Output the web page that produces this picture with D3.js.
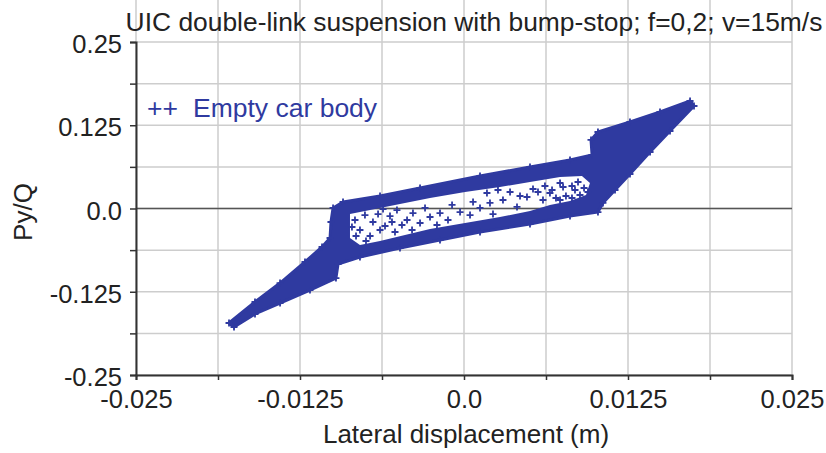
<!DOCTYPE html>
<html>
<head>
<meta charset="utf-8">
<script src="https://cdnjs.cloudflare.com/ajax/libs/d3/7.8.5/d3.min.js"></script>
<style>
  html, body { margin: 0; padding: 0; background: #fff }
  svg { display: block; font-family: 'Liberation Sans', Arial, sans-serif }
</style>
</head>
<body>
<svg id="chart" width="826" height="453"></svg>
<script>
var BLUE = '#2f3aa0'
  , INK = '#222'
  , GRID = '#cdcdcd'
  , PLUS = 'M-3.5,0H3.5M0,-3.5V3.5'

var title = 'UIC double-link suspension with bump-stop; f=0,2; v=15m/s'
  , xLabel = 'Lateral displacement (m)'
  , yLabel = 'Py/Q'
  , legendLabel = 'Empty car body'

var xTicks = [-0.025, -0.0125, 0, 0.0125, 0.025]
  , xTickLabels = ['-0.025', '-0.0125', '0.0', '0.0125', '0.025']
  , xMinorTicks = [-0.01875, -0.00625, 0.00625, 0.01875]
  , yTicks = [0.25, 0.125, 0, -0.125, -0.25]
  , yTickLabels = ['0.25', '0.125', '0.0', '-0.125', '-0.25']
  , yMinorTicks = [0.1875, 0.0625, -0.0625, -0.1875]

// outline of the dense cloud of (displacement, Py/Q) points,
// read clockwise from the lower-left tip
var envelope = [
    [-0.01791, -0.1719], [-0.01593, -0.1404], [-0.01402, -0.1119]
  , [-0.01212, -0.0803], [-0.01082, -0.0578], [-0.01021, -0.0443]
  , [-0.01014, -0.0203], [-0.00998, 0.0008], [-0.00922, 0.0098]
  , [-0.00640, 0.0188], [-0.00335, 0.0308], [0.00122, 0.0488]
  , [0.00503, 0.0623], [0.00808, 0.0728], [0.00976, 0.0803]
  , [0.00968, 0.1029], [0.01021, 0.1149], [0.01265, 0.1299]
  , [0.01494, 0.1449], [0.01723, 0.1614], [0.01753, 0.1539]
  , [0.01570, 0.1164], [0.01418, 0.0848], [0.01265, 0.0518]
  , [0.01151, 0.0278], [0.01059, 0.0083], [0.01021, -0.0053]
  , [0.00808, -0.0113], [0.00503, -0.0233], [0.00122, -0.0353]
  , [-0.00183, -0.0473], [-0.00488, -0.0593], [-0.00793, -0.0729]
  , [-0.00960, -0.0833], [-0.00976, -0.1044], [-0.01174, -0.1224]
  , [-0.01402, -0.1419], [-0.01593, -0.1584], [-0.01753, -0.1779]
]

// sparse inside of the hysteresis loop
var loopHole = [
    [-0.00869, -0.0083], [-0.00716, -0.0023], [-0.00488, 0.0068]
  , [-0.00259, 0.0158], [0.00008, 0.0248], [0.00274, 0.0323]
  , [0.00503, 0.0398], [0.00732, 0.0473], [0.00899, 0.0488]
  , [0.00960, 0.0383], [0.00930, 0.0203], [0.00808, 0.0113]
  , [0.00655, 0.0053], [0.00503, -0.0038], [0.00274, -0.0128]
  , [0.00008, -0.0218], [-0.00259, -0.0308], [-0.00450, -0.0398]
  , [-0.00640, -0.0488], [-0.00793, -0.0548], [-0.00869, -0.0443]
]

// single points scattered inside the loop
var loosePoints = [
    [-0.00122, -0.0173], [0.00069, 0.0098], [0.00175, 0.0233], [-0.00030, -0.0053]
  , [-0.00206, -0.0248], [-0.00259, -0.0128], [-0.00389, -0.0068], [-0.00335, -0.0218]
  , [0.00297, 0.0128], [0.00351, 0.0248], [0.00404, 0.0023], [0.00480, 0.0173]
  , [0.00526, 0.0293], [0.00602, 0.0128], [0.00655, 0.0233], [0.00755, 0.0323]
  , [0.00777, 0.0188], [0.00823, 0.0338], [0.00259, 0.0278], [-0.00511, -0.0023]
  , [-0.00473, -0.0248], [-0.00564, -0.0113], [-0.00617, -0.0008], [-0.00602, -0.0263]
  , [-0.00526, -0.0353], [-0.00434, -0.0173], [-0.00297, 0.0008], [-0.00183, -0.0068]
  , [-0.00091, 0.0053], [0.00046, -0.0098], [0.00122, 0.0008], [0.00198, 0.0083]
  , [0.00221, -0.0083], [0.00427, 0.0188], [0.00564, 0.0248], [0.00617, 0.0338]
  , [0.00701, 0.0158], [0.00732, 0.0383], [-0.00396, -0.0323], [-0.00549, -0.0203]
  , [-0.00831, -0.0173], [-0.00793, -0.0323], [-0.00755, -0.0098], [-0.00716, -0.0413]
  , [-0.00694, -0.0203], [-0.00655, -0.0083], [-0.00640, -0.0323], [-0.00823, -0.0413]
  , [-0.00747, -0.0488], [-0.00854, -0.0278], [0.00869, 0.0398], [0.00915, 0.0308]
  , [0.00884, 0.0203], [0.00846, 0.0278], [0.00945, 0.0248], [0.00823, 0.0158]
  , [0.00732, 0.0128], [0.00671, 0.0278]
]

var svg = d3.select('#chart')

var x = d3.scaleLinear().domain([-0.025, 0.025]).range([136, 792])
  , y = d3.scaleLinear().domain([-0.25, 0.25]).range([375, 42])

var left = x.range()[0]
  , right = x.range()[1]
  , bottom = y.range()[0]
  , top = y.range()[1]

drawGrid()
drawCloud()
drawAxes()
drawText()

function drawGrid() {
  var grid = svg.append('g').attr('class', 'grid')

  grid.selectAll('.grid-x')
    .data(xTicks.concat(xMinorTicks))
    .enter()
      .append('line')
      .attr('x1', x)
      .attr('x2', x)
      .attr('y1', top)
      .attr('y2', bottom)
      .attr('stroke', GRID)
      .attr('stroke-width', 1.5)

  grid.selectAll('.grid-y')
    .data(yTicks.concat(yMinorTicks))
    .enter()
      .append('line')
      .attr('x1', left)
      .attr('x2', right)
      .attr('y1', y)
      .attr('y2', y)
      .attr('stroke', GRID)
      .attr('stroke-width', 1.5)

  grid.append('line')
    .attr('x1', left)
    .attr('x2', right)
    .attr('y1', y(0))
    .attr('y2', y(0))
    .attr('stroke', '#555')
    .attr('stroke-width', 1.5)

  grid.append('path')
    .attr('d', 'M' + left + ',' + top + 'H' + right + 'V' + bottom)
    .attr('fill', 'none')
    .attr('stroke', '#444')
    .attr('stroke-width', 1.5)
}

function drawCloud() {
  var closed = d3.line()
    .x(function(d) { return x(d[0]) })
    .y(function(d) { return y(d[1]) })
    .curve(d3.curveLinearClosed)

  var cloud = svg.append('g').attr('class', 'cloud')

  cloud.append('path')
    .attr('d', closed(envelope) + closed(loopHole))
    .attr('fill', BLUE)
    .attr('fill-rule', 'evenodd')

  cloud.append('path')
    .attr('d', closed(envelope))
    .attr('fill', 'none')
    .attr('stroke', BLUE)
    .attr('stroke-width', 3)
    .attr('stroke-linejoin', 'round')

  cloud.selectAll('.plus')
    .data(loosePoints.concat(envelope))
    .enter()
      .append('path')
      .attr('class', 'plus')
      .attr('d', PLUS)
      .attr('transform', function(d) {
        return 'translate(' + x(d[0]) + ',' + y(d[1]) + ')'
      })
      .attr('stroke', BLUE)
      .attr('stroke-width', 1.8)
}

function drawAxes() {
  var yAxis = d3.axisLeft(y)
    .tickValues(yTicks.concat(yMinorTicks))
    .tickSize(6)
    .tickPadding(8)
    .tickFormat(function(d) {
      var i = yTicks.indexOf(d)
      return i < 0 ? '' : yTickLabels[i]
    })

  var xAxis = d3.axisBottom(x)
    .tickValues(xTicks.concat(xMinorTicks))
    .tickSize(5)
    .tickFormat(function(d) {
      var i = xTicks.indexOf(d)
      return i < 0 ? '' : xTickLabels[i]
    })

  var gy = svg.append('g')
    .attr('transform', 'translate(' + left + ',0)')
    .call(yAxis)

  var gx = svg.append('g')
    .attr('transform', 'translate(0,' + bottom + ')')
    .call(xAxis)

  ;[gx, gy].forEach(function(g) {
    g.attr('font-family', null).attr('font-size', null)
    g.select('.domain').attr('stroke', '#333').attr('stroke-width', 2)
    g.selectAll('.tick line').attr('stroke', '#333').attr('stroke-width', 1.5)
    g.selectAll('.tick text').attr('fill', INK).style('font-size', '25.5px')
  })

  gy.selectAll('.tick text').attr('dy', '0.42em')
  gx.selectAll('.tick text').attr('y', 15).attr('dy', '0.71em')
}

function drawText() {
  svg.append('text')
    .attr('x', 474)
    .attr('y', 31)
    .attr('text-anchor', 'middle')
    .attr('fill', INK)
    .style('font-size', '26.4px')
    .text(title)

  svg.append('text')
    .attr('x', 466)
    .attr('y', 443)
    .attr('text-anchor', 'middle')
    .attr('fill', INK)
    .style('font-size', '26px')
    .text(xLabel)

  svg.append('text')
    .attr('transform', 'translate(32,212) rotate(-90)')
    .attr('text-anchor', 'middle')
    .attr('fill', INK)
    .style('font-size', '26px')
    .text(yLabel)

  svg.append('text')
    .attr('x', 147)
    .attr('y', 117)
    .attr('fill', BLUE)
    .style('font-size', '26.5px')
    .text('++')

  svg.append('text')
    .attr('x', 193)
    .attr('y', 117)
    .attr('fill', BLUE)
    .style('font-size', '26.5px')
    .text(legendLabel)
}
</script>
</body>
</html>
